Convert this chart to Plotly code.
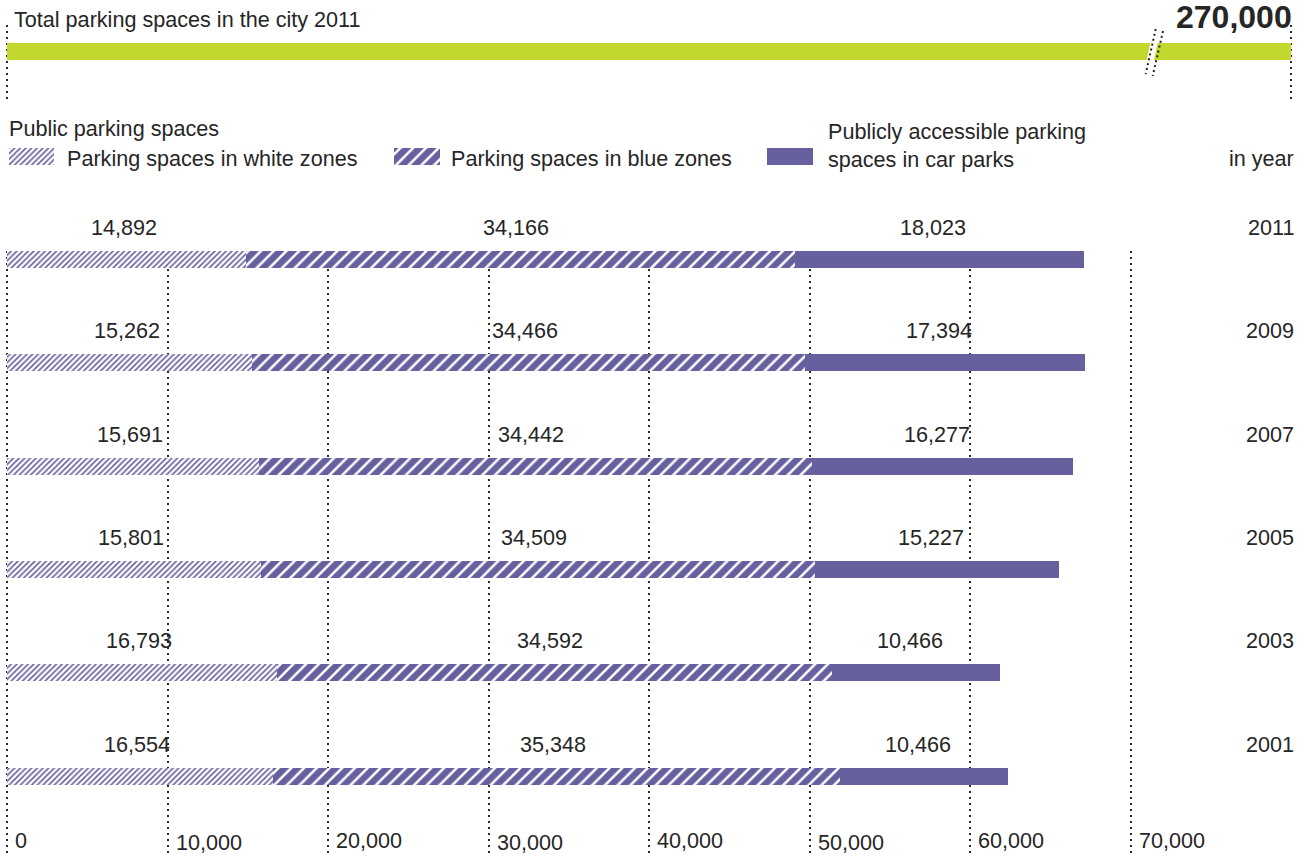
import plotly.graph_objects as go

# ---------------- data ----------------
years = ["2011", "2009", "2007", "2005", "2003", "2001"]
white_zones = [14892, 15262, 15691, 15801, 16793, 16554]
blue_zones = [34166, 34466, 34442, 34509, 34592, 35348]
car_parks = [18023, 17394, 16277, 15227, 10466, 10466]
total_city_2011 = 270000
tick_values = [0, 10000, 20000, 30000, 40000, 50000, 60000, 70000]
tick_labels = ["0", "10,000", "20,000", "30,000", "40,000", "50,000", "60,000", "70,000"]
series_names = ["Parking spaces in white zones", "Parking spaces in blue zones",
                "Publicly accessible parking<br>spaces in car parks"]

# ---------------- styles ----------------
W, H = 1310, 856
PURPLE = "#67609e"
GREEN = "#c3d82e"
TEXT = "#262626"
FONT = "Liberation Sans, Arial, sans-serif"
FS = 21.6

def py(px):
    return 1 - px / H

# main x scale: 0 -> 7px, 70000 -> 1131px
sc = (1131 - 7) / 70000
x_min = -7 / sc
x_max = x_min + W / sc
# top bar scale: 0 -> 7px, 270000 -> 1291px
sc2 = (1291 - 7) / 270000
x2_min = -7 / sc2
x2_max = x2_min + W / sc2

pat_white = dict(shape="/", size=4, solidity=0.4, fgcolor=PURPLE, bgcolor="white", fillmode="replace")
pat_blue = dict(shape="/", size=9, solidity=0.72, fgcolor=PURPLE, bgcolor="white", fillmode="replace")

cat_order = years[::-1]  # bottom -> top

fig = go.Figure()

bar_w = 17 / 103.3
fig.add_trace(go.Bar(y=years, x=white_zones, orientation="h", width=bar_w,
                     marker=dict(color=PURPLE, pattern=pat_white, line=dict(width=0)),
                     showlegend=False, hoverinfo="skip"))
fig.add_trace(go.Bar(y=years, x=blue_zones, orientation="h", width=bar_w,
                     marker=dict(color=PURPLE, pattern=pat_blue, line=dict(width=0)),
                     showlegend=False, hoverinfo="skip"))
fig.add_trace(go.Bar(y=years, x=car_parks, orientation="h", width=bar_w,
                     marker=dict(color=PURPLE, line=dict(width=0)),
                     showlegend=False, hoverinfo="skip"))

# top bar
fig.add_trace(go.Bar(y=[0], x=[total_city_2011], orientation="h", width=17 / 75,
                     marker=dict(color=GREEN, line=dict(width=0)),
                     xaxis="x2", yaxis="y2", showlegend=False, hoverinfo="skip"))

# legend swatches (small axes)
sw_x = [(9, 54), (394, 440), (767, 813)]
pats = [pat_white, pat_blue, None]
for i, ((a, b), p) in enumerate(zip(sw_x, pats)):
    k = i + 3
    mk = dict(color=PURPLE, line=dict(width=0))
    if p:
        mk["pattern"] = p
    fig.add_trace(go.Bar(y=[0], x=[1], orientation="h", width=1, marker=mk,
                         xaxis=f"x{k}", yaxis=f"y{k}", showlegend=False, hoverinfo="skip"))
    fig.update_layout(**{
        f"xaxis{k}": dict(domain=[a / W, b / W], range=[0, 1], visible=False, anchor=f"y{k}", fixedrange=True),
        f"yaxis{k}": dict(domain=[py(165), py(148)], range=[-0.5, 0.5], visible=False, anchor=f"x{k}", fixedrange=True),
    })

ann = []
def add_text(text, x, y, xref="paper", yref="paper", xanchor="left", yanchor="middle",
             size=FS, bold=False, yshift=0, xshift=0, borderpad=1):
    ann.append(dict(text=f"<b>{text}</b>" if bold else text, x=x, y=y, xref=xref, yref=yref,
                    xanchor=xanchor, yanchor=yanchor, showarrow=False, yshift=yshift, xshift=xshift,
                    borderpad=borderpad, font=dict(family=FONT, size=size, color=TEXT)))

# value labels centered over each segment
for yr, a, b, c in zip(years, white_zones, blue_zones, car_parks):
    yi = cat_order.index(yr)
    add_text(f"{a:,}", a / 2, yi, xref="x", yref="y", xanchor="center", yshift=32, xshift=-3)
    add_text(f"{b:,}", a + b / 2, yi, xref="x", yref="y", xanchor="center", yshift=32, xshift=-4)
    add_text(f"{c:,}", a + b + c / 2, yi, xref="x", yref="y", xanchor="center", yshift=32, xshift=-6)
    add_text(yr, 1296 / W, yi, yref="y", xanchor="right", yshift=32)

# axis tick labels along the bottom edge (alternating slight offsets as in the original)
lifts = [2.5, 0, 2.5, 0, 2.5, 0, 2.5, 2.5]
for v, lab, lift in zip(tick_values, tick_labels, lifts):
    add_text(lab, v, 0, xref="x", xanchor="left", yanchor="bottom", xshift=7, yshift=lift, borderpad=0)

add_text("Total parking spaces in the city 2011", 12 / W, py(20))
add_text(f"{total_city_2011:,}", 1294 / W, py(17), xanchor="right", size=32, bold=True)
add_text("Public parking spaces", 7 / W, py(128))
add_text(series_names[0], 65 / W, py(158))
add_text(series_names[1], 449 / W, py(158))
ann.append(dict(text=series_names[2], x=826 / W, y=py(145.5), xref="paper", yref="paper",
                xanchor="left", yanchor="middle", showarrow=False, align="left",
                font=dict(family=FONT, size=FS, color=TEXT)))
add_text("in year", 1296 / W, py(158), xanchor="right")

# break marks on the top bar
shapes = [
    dict(type="path", xref="paper", yref="paper",
         path=f"M {1150.5/W} {py(42)} L {1157.7/W} {py(42)} L {1153.8/W} {py(61)} L {1146.6/W} {py(61)} Z",
         fillcolor="white", line=dict(width=0)),
    dict(type="line", xref="paper", yref="paper", x0=1155.7 / W, y0=py(29), x1=1145.7 / W, y1=py(74),
         line=dict(color="#222", width=2, dash="2px,3px")),
    dict(type="line", xref="paper", yref="paper", x0=1163 / W, y0=py(31), x1=1152.7 / W, y1=py(76),
         line=dict(color="#222", width=2, dash="2px,3px")),
]

# category axis geometry: domain 251..854px, 2011 center 259.5, 2001 center 776
fig.update_layout(
    width=W, height=H,
    margin=dict(l=0, r=0, t=0, b=0),
    paper_bgcolor="white", plot_bgcolor="rgba(0,0,0,0)",
    barmode="stack", bargap=0,
    font=dict(family=FONT, size=FS, color=TEXT),
    xaxis=dict(domain=[0, 1], range=[x_min, x_max], tickvals=tick_values, showticklabels=False,
               showgrid=True, gridcolor="#2a2a2a", gridwidth=2, griddash="2px,4px",
               zeroline=False, showline=False, ticks="", anchor="y", fixedrange=True),
    yaxis=dict(domain=[py(854), py(251)], type="category",
               categoryorder="array", categoryarray=cat_order,
               range=[-0.755, 5.082], showticklabels=False, showgrid=False,
               zeroline=False, showline=False, ticks="", anchor="x", fixedrange=True),
    xaxis2=dict(domain=[0, 1], range=[x2_min, x2_max], tickvals=[0, total_city_2011], showticklabels=False,
                showgrid=True, gridcolor="#2a2a2a", gridwidth=2, griddash="2px,4px",
                zeroline=False, showline=False, ticks="", anchor="y2", fixedrange=True),
    yaxis2=dict(domain=[py(100), py(25)], range=[-0.6467, 0.3533], visible=False,
                anchor="x2", fixedrange=True),
    annotations=ann,
    shapes=shapes,
)

fig.write_html("out.html")
